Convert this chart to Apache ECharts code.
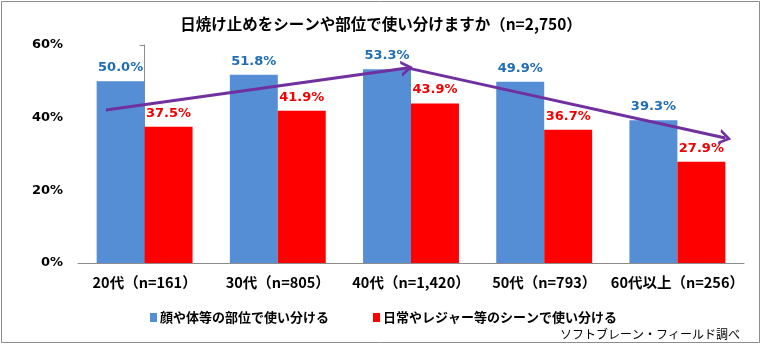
<!DOCTYPE html>
<html>
<head>
<meta charset="utf-8">
<script src="https://cdn.jsdelivr.net/npm/echarts@6/dist/echarts.min.js"></script>
<style>
html,body{margin:0;padding:0;background:#fff;}
#chart{width:762px;height:345px;}
</style>
</head>
<body>
<div id="chart"></div>
<script>
// Age groups and the share (%) for each way of using sunscreen
const categories = ['20代（n=161）', '30代（n=805）', '40代（n=1,420）', '50代（n=793）', '60代以上（n=256）'];
const byBodyPart = [50.0, 51.8, 53.3, 49.9, 39.3];
const byScene = [37.5, 41.9, 43.9, 36.7, 27.9];
const seriesNames = ['顔や体等の部位で使い分ける', '日常やレジャー等のシーンで使い分ける'];
const yTicks = [0, 20, 40, 60];

// Trend arrows, drawn on a hidden numeric x axis (category index units)
const trendUp = [[-0.29, 42.1], [1.97, 53.7]];
const trendDown = [[1.97, 53.7], [4.36, 34.4]];

const jp = '"DejaVu Sans", "Noto Sans CJK JP", sans-serif';
const jpOnly = '"Noto Sans CJK JP", sans-serif';
const openArrow = 'path://M0,10 L5,0 L10,10 L8,10 L5,4 L2,10 Z';

const chart = echarts.init(document.getElementById('chart'), null, {renderer: 'canvas'});
chart.setOption({
  animation: false,
  backgroundColor: '#fff',
  title: {
    text: '日焼け止めをシーンや部位で使い分けますか（n=2,750）',
    left: 'center',
    top: 11,
    textStyle: {fontFamily: jpOnly, fontSize: 15.5, fontWeight: 'bold', color: '#000'}
  },
  graphic: [{
    type: 'rect',
    shape: {x: 1.5, y: 1.5, width: 758, height: 341},
    style: {fill: 'none', stroke: '#8c8c8c', lineWidth: 1},
    silent: true
  }, {
    type: 'text',
    right: 22,
    bottom: 5,
    style: {text: 'ソフトブレーン・フィールド調べ', font: '12px "Noto Sans CJK JP"', fill: '#000'}
  }],
  legend: {
    data: seriesNames,
    left: 145,
    top: 306,
    itemWidth: 7,
    itemHeight: 9,
    itemGap: 44,
    icon: 'rect',
    textStyle: {fontFamily: jpOnly, fontSize: 13, fontWeight: 'bold', color: '#000', padding: [0, 0, 0, -2]}
  },
  grid: {left: 78, right: 18, top: 45, bottom: 82},
  xAxis: [{
    type: 'category',
    data: categories,
    axisLine: {lineStyle: {color: '#8c8c8c'}},
    axisTick: {lineStyle: {color: '#8c8c8c'}, length: 5},
    axisLabel: {interval: 0, fontFamily: jpOnly, fontSize: 14.5, fontWeight: 'bold', color: '#000', margin: 12}
  }, {
    type: 'value',
    min: -0.5,
    max: 4.5,
    show: false
  }],
  yAxis: {
    type: 'value',
    min: 0,
    max: 60,
    interval: 20,
    axisLine: {show: true, lineStyle: {color: '#8c8c8c'}},
    axisTick: {show: true, length: 5, lineStyle: {color: '#8c8c8c'}},
    splitLine: {show: false},
    axisLabel: {
      fontFamily: jp, fontSize: 13, fontWeight: 'bold', color: '#000', margin: 15,
      formatter: v => yTicks.includes(v) ? v + '%' : ''
    }
  },
  series: [{
    name: seriesNames[0],
    type: 'bar',
    data: byBodyPart,
    barGap: '0%',
    barCategoryGap: '28%',
    itemStyle: {color: '#558ED5'},
    label: {
      show: true, position: 'top', distance: 7,
      formatter: p => p.value.toFixed(1) + '%',
      fontFamily: jp, fontSize: 13, fontWeight: 'bold', color: '#1F6DB5'
    }
  }, {
    name: seriesNames[1],
    type: 'bar',
    data: byScene,
    itemStyle: {color: '#FF0000'},
    label: {
      show: true, position: 'top', distance: 7,
      formatter: p => p.value.toFixed(1) + '%',
      fontFamily: jp, fontSize: 13, fontWeight: 'bold', color: '#F00000'
    }
  }, {
    name: 'trend',
    type: 'line',
    xAxisIndex: 1,
    data: [],
    silent: true,
    markLine: {
      silent: true,
      symbol: ['none', openArrow],
      symbolSize: [16, 12],
      label: {show: false},
      lineStyle: {color: '#7030A0', width: 3, type: 'solid'},
      emphasis: {disabled: true},
      data: [
        [{coord: trendUp[0]}, {coord: trendUp[1]}],
        [{coord: trendDown[0]}, {coord: trendDown[1]}]
      ]
    }
  }]
});
</script>
</body>
</html>
